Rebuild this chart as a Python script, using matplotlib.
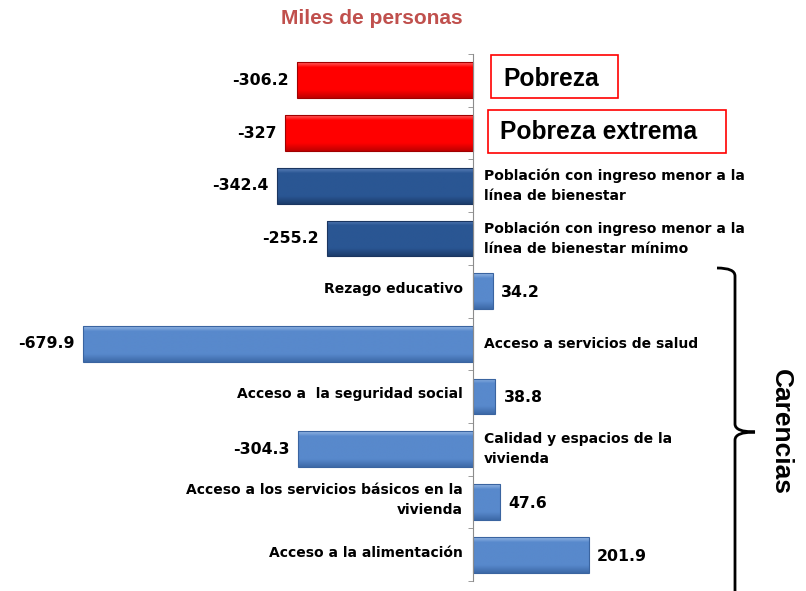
import numpy as np
import matplotlib
matplotlib.use("Agg")
import matplotlib.pyplot as plt
from matplotlib.colors import LinearSegmentedColormap
from matplotlib.path import Path
from matplotlib.patches import PathPatch, Rectangle

# datos (miles de personas)
categorias = ["Pobreza", "Pobreza extrema",
              "Población con ingreso menor a la\nlínea de bienestar",
              "Población con ingreso menor a la\nlínea de bienestar mínimo",
              "Rezago educativo", "Acceso a servicios de salud",
              "Acceso a  la seguridad social",
              "Calidad y espacios de la\nvivienda",
              "Acceso a los servicios básicos en la\nvivienda",
              "Acceso a la alimentación"]
valores = [-306.2, -327, -342.4, -255.2, 34.2, -679.9, 38.8, -304.3, 47.6, 201.9]
grupo = ["rojo", "rojo", "oscuro", "oscuro", "claro", "claro", "claro", "claro", "claro", "claro"]

# colores (claro, base, sombra, borde)
paleta = {"rojo": ("#ff6060", "#ff0000", "#c00000", "#a00000"),
          "oscuro": ("#5a80b8", "#2a5693", "#1c3d6c", "#1a3560"),
          "claro": ("#93b5e3", "#5889cc", "#3d6aa8", "#3a64a0")}

LAB = "DejaVu Sans"
ARIAL = "Liberation Sans"

fig = plt.figure(figsize=(8.06, 5.91), dpi=100)
ax = fig.add_axes([0, 10 / 591, 1, 527 / 591])

y = np.arange(len(valores))
alto = 0.68
barras = ax.barh(y, valores, height=alto, facecolor="none", zorder=3)
for b, v, g in zip(barras, valores, grupo):
    luz, base, sombra, borde = paleta[g]
    b.set_edgecolor(borde)
    b.set_linewidth(0.8)
    cmap = LinearSegmentedColormap.from_list(g, [(0, luz), (0.14, base), (0.78, base), (1, sombra)])
    x0, x1 = min(0, v), max(0, v)
    yc = b.get_y() + b.get_height() / 2
    im = ax.imshow(np.linspace(0, 1, 100).reshape(-1, 1), cmap=cmap, aspect="auto",
                   extent=[x0, x1, yc + alto / 2, yc - alto / 2], origin="upper",
                   zorder=2, interpolation="bilinear")
    im.set_clip_path(b)

ax.set_xlim(-824.6, 580.5)
ax.set_ylim(len(valores) - 0.5, -0.5)

# eje en cero
for s in ["top", "right", "bottom"]:
    ax.spines[s].set_visible(False)
ax.spines["left"].set_position(("data", 0))
ax.spines["left"].set_color("#8c8c8c")
ax.spines["left"].set_zorder(4)
ax.set_xticks([])
ax.set_yticks([])
ax.set_yticks(np.arange(-0.5, len(valores), 1), minor=True)
ax.tick_params(axis="y", which="minor", direction="out", length=3.5, color="#8c8c8c", labelleft=False)
ax.patch.set_visible(False)

# etiquetas de valores y categorías
desp_rojo = [21.6, 19.4]  # puntos desde el eje
for i, (v, cat) in enumerate(zip(valores, categorias)):
    if v < 0:
        ax.annotate(f"{v:g}", (v, i), xytext=(-6, 0), textcoords="offset points",
                    ha="right", va="center", fontsize=11.3, fontweight="bold", family=LAB)
    else:
        ax.annotate(f"{v:g}", (v, i), xytext=(6, -1), textcoords="offset points",
                    ha="left", va="center", fontsize=11.3, fontweight="bold", family=LAB)
    if grupo[i] == "rojo":
        ax.annotate(cat, (0, i), xytext=(desp_rojo[i], 1), textcoords="offset points",
                    ha="left", va="center", fontsize=17.7, fontweight="bold", family=ARIAL)
    elif v < 0:
        ax.annotate(cat, (0, i), xytext=(8, 0), textcoords="offset points",
                    ha="left", va="center", fontsize=10, fontweight="bold", family=LAB,
                    linespacing=1.55)
    else:
        ax.annotate(cat, (0, i), xytext=(-7.5, 1.5), textcoords="offset points",
                    ha="right", va="center", fontsize=10, fontweight="bold", family=LAB,
                    linespacing=1.55, multialignment="right")

# título, recuadros y llave "Carencias" en pixeles de figura
ov = fig.add_axes([0, 0, 1, 1], zorder=-1)
ov.set_xlim(0, 806)
ov.set_ylim(591, 0)
ov.axis("off")
ov.text(372, 18, "Miles de personas", ha="center", va="center", color="#c0504d",
        fontsize=15, fontweight="bold", family=ARIAL)
ov.add_patch(Rectangle((491, 55), 127, 43, fc="white", ec="#ff0000", lw=1.2))
ov.add_patch(Rectangle((488, 110), 238, 43, fc="white", ec="#ff0000", lw=1.2))
ov.text(781, 432, "Carencias", ha="center", va="center", rotation=-90,
        fontsize=19, fontweight="bold", family=ARIAL)
llave = Path([(717, 268), (735, 268), (735, 276), (735, 276),
              (735, 424), (735, 432), (755, 432),
              (735, 432), (735, 440), (735, 440), (735, 600)],
             [Path.MOVETO, Path.CURVE3, Path.CURVE3, Path.LINETO,
              Path.LINETO, Path.CURVE3, Path.CURVE3,
              Path.CURVE3, Path.CURVE3, Path.LINETO, Path.LINETO])
ov.add_patch(PathPatch(llave, fc="none", ec="black", lw=2, capstyle="butt"))

fig.savefig("out.png", dpi=100)
